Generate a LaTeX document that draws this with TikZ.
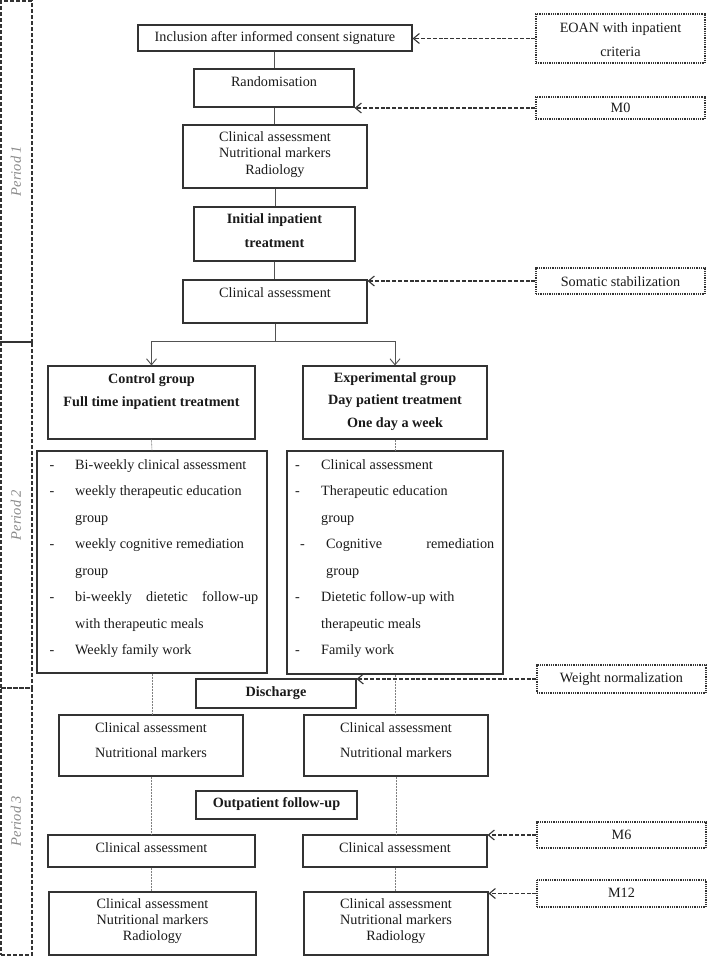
\documentclass[tikz,border=0pt]{standalone}
\usepackage{fontspec}
\setmainfont{Liberation Serif}
\usetikzlibrary{arrows.meta}
\definecolor{ln}{HTML}{333333}
\definecolor{tx}{HTML}{1A1A1A}
\definecolor{pg}{HTML}{8A8A8A}
\tikzset{
 boxst/.style={draw=ln, line width=1.1pt, inner sep=0pt},
 dotbox/.style={draw=ln, line width=1.4pt, dash pattern=on 1pt off 0.8pt, inner sep=0pt},
 txt/.style={text=tx, inner sep=0pt, align=center, font=\fontsize{14.2}{16.5}\selectfont},
 lt/.style={text=tx, inner sep=0pt, anchor=base west, font=\fontsize{14.2}{16.5}\selectfont},
 flow/.style={draw=ln!85, line width=0.9pt},
 arr/.style={-{Straight Barb[length=6pt,width=10pt]}},
 thinln/.style={draw=gray, line width=0.6pt, dash pattern=on 1pt off 0.5pt},
 darr/.style={draw=ln, line width=1.1pt, dash pattern=on 4pt off 1.8pt, -{Straight Barb[length=6pt,width=10pt]}},
 perbox/.style={draw=ln, line width=1.1pt, dash pattern=on 4pt off 2pt, inner sep=0pt},
 pertxt/.style={text=pg, rotate=90, inner sep=0pt, font=\fontsize{14.5}{16}\selectfont\itshape},
}
% style, name, x1, y1, x2, y2, text y, text options, text
\newcommand\mkbox[9]{%
  \node[#1, minimum width={(#5-#3)*1pt}, minimum height={(#6-#4)*1pt}] (#2) at ({(#3+#5)/2},{(#4+#6)/2}) {};
  \node[txt,#8] (#2t) at ({(#3+#5)/2},#7) {#9};
}
\begin{document}
\begin{tikzpicture}[x=1pt,y=-1pt]
\useasboundingbox (0,0) rectangle (709,956);

% periods
\node[perbox, minimum width=31pt, minimum height=341pt] (p1) at (16.5,171.5) {};
\node[pertxt] (p1t) at (16,171) {Period 1};
\node[perbox, minimum width=31pt, minimum height=346pt] (p2) at (16.5,515) {};
\node[pertxt] (p2t) at (16,515) {Period 2};
\node[perbox, minimum width=31pt, minimum height=267pt] (p3) at (16.5,821.5) {};
\node[pertxt] (p3t) at (16,821) {Period 3};

% main column
\mkbox{boxst}{inc}{138}{25}{412}{51}{38}{}{Inclusion after informed consent signature}
\mkbox{boxst}{rand}{194}{69}{354}{107}{82}{}{Randomisation}
\mkbox{boxst}{cnr}{183}{125}{367}{188}{154.5}{}{Clinical assessment\\Nutritional markers\\Radiology}
\mkbox{boxst}{init}{194}{207}{355}{261}{231}{font=\fontsize{14.2}{24}\selectfont\bfseries}{Initial inpatient\\treatment}
\mkbox{boxst}{ca}{183}{280}{367}{323}{293}{}{Clinical assessment}

% groups
\mkbox{boxst}{ctrl}{48}{366}{255}{439}{391.5}{font=\fontsize{14.2}{23}\selectfont\bfseries}{Control group\\Full time inpatient treatment}
\mkbox{boxst}{exp}{303}{366}{487}{439}{401.5}{font=\fontsize{14.2}{22.5}\selectfont\bfseries}{Experimental group\\Day patient treatment\\One day a week}

% lists
\mkbox{boxst}{ctrlL}{37}{451}{267}{673}{562}{}{}
\mkbox{boxst}{expL}{287}{451}{503}{674}{562}{}{}

\node[lt] (cd1) at (49.5,469) {-};
\node[lt] (cl1) at (75,469) {Bi-weekly clinical assessment};
\node[lt] (cd2) at (49.5,495.5) {-};
\node[lt] (cl2) at (75,495.5) {weekly therapeutic education};
\node[lt] (cl3) at (75,522) {group};
\node[lt] (cd4) at (49.5,548.5) {-};
\node[lt] (cl4) at (75,548.5) {weekly cognitive remediation};
\node[lt] (cl5) at (75,575) {group};
\node[lt] (cd6) at (49.5,601.5) {-};
\node[lt] (cl6) at (75,601.5) {\makebox[183pt][s]{bi-weekly dietetic follow-up}};
\node[lt] (cl7) at (75,628) {with therapeutic meals};
\node[lt] (cd8) at (49.5,654.5) {-};
\node[lt] (cl8) at (75,654.5) {Weekly family work};

\node[lt] (ed1) at (295,469) {-};
\node[lt] (el1) at (321,469) {Clinical assessment};
\node[lt] (ed2) at (295,495.5) {-};
\node[lt] (el2) at (321,495.5) {Therapeutic education};
\node[lt] (el3) at (321,522) {group};
\node[lt] (ed4) at (300,548.5) {-};
\node[lt] (el4) at (326,548.5) {\makebox[168pt][s]{Cognitive remediation}};
\node[lt] (el5) at (326,575) {group};
\node[lt] (ed6) at (295,601.5) {-};
\node[lt] (el6) at (321,601.5) {Dietetic follow-up with};
\node[lt] (el7) at (321,628) {therapeutic meals};
\node[lt] (ed8) at (295,654.5) {-};
\node[lt] (el8) at (321,654.5) {Family work};

% lower part
\mkbox{boxst}{disc}{196}{679}{356}{708}{693}{font=\fontsize{14.2}{16.5}\selectfont\bfseries}{Discharge}
\mkbox{boxst}{cn2}{59}{715}{243}{776}{740.5}{font=\fontsize{14.2}{25}\selectfont}{Clinical assessment\\Nutritional markers}
\mkbox{boxst}{en2}{304}{715}{488}{776}{740.5}{font=\fontsize{14.2}{25}\selectfont}{Clinical assessment\\Nutritional markers}
\mkbox{boxst}{outp}{196}{791}{357}{819}{804}{font=\fontsize{14.2}{16.5}\selectfont\bfseries}{Outpatient follow-up}
\mkbox{boxst}{ca3}{48}{835}{255}{867}{848}{}{Clinical assessment}
\mkbox{boxst}{ea3}{303}{835}{487}{867}{848}{}{Clinical assessment}
\mkbox{boxst}{cnr4}{49}{892}{256}{955}{921}{font=\fontsize{14.2}{16}\selectfont}{Clinical assessment\\Nutritional markers\\Radiology}
\mkbox{boxst}{enr4}{304}{892}{488}{955}{921}{font=\fontsize{14.2}{16}\selectfont}{Clinical assessment\\Nutritional markers\\Radiology}

% right dotted boxes
\mkbox{dotbox}{eoan}{536}{14}{705}{63}{40}{font=\fontsize{14.2}{24}\selectfont}{EOAN with inpatient\\criteria}
\mkbox{dotbox}{mzero}{536}{97}{705}{119}{108}{}{M0}
\mkbox{dotbox}{som}{536}{268}{705}{294}{282}{}{Somatic stabilization}
\mkbox{dotbox}{wn}{537}{665}{706}{693}{679}{}{Weight normalization}
\mkbox{dotbox}{msix}{537}{822}{706}{848}{835}{}{M6}
\mkbox{dotbox}{mtw}{537}{880}{706}{907}{893}{}{M12}

% main flow
\draw[flow] (inc.south -| rand.north) -- (rand.north);
\draw[flow] (rand.south) -- (rand.south |- cnr.north);
\draw[flow] (cnr.south) -- (cnr.south |- init.north);
\draw[flow] (init.south) -- (init.south |- ca.north);
\coordinate (sp) at (275,341);
\draw[flow] (ca.south) -- (sp);
\draw[flow,arr] (sp) -| (ctrl.north);
\draw[flow,arr] (sp) -| (exp.north);

% thin connectors
\draw[thinln] (ctrl.south) -- (ctrlL.north);
\draw[thinln] (exp.south) -- (expL.north);
\draw[thinln] (ctrlL.south) -- (ctrlL.south |- cn2.north);
\draw[thinln] (expL.south) -- (expL.south |- en2.north);
\draw[thinln] (cn2.south) -- (cn2.south |- ca3.north);
\draw[thinln] (en2.south) -- (en2.south |- ea3.north);
\draw[thinln] (ca3.south) -- (ca3.south |- cnr4.north);
\draw[thinln] (ea3.south) -- (ea3.south |- enr4.north);

% dashed arrows
\draw[darr] (eoan.west) -- (eoan.west -| inc.east);
\draw[darr] (mzero.west) -- (mzero.west -| rand.east);
\draw[darr] (som.west) -- (som.west -| ca.east);
\draw[darr] (wn.west) -- (wn.west -| disc.east);
\draw[darr] (msix.west) -- (msix.west -| ea3.east);
\draw[darr] (mtw.west) -- (mtw.west -| enr4.east);
\end{tikzpicture}
\end{document}
